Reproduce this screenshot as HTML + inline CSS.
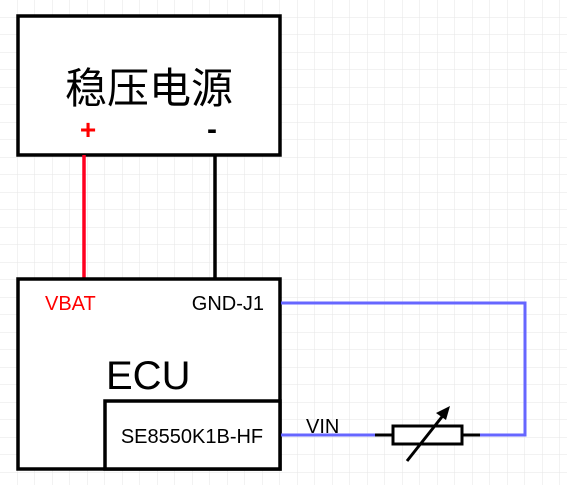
<!DOCTYPE html>
<html><head><meta charset="utf-8"><style>
html,body{margin:0;padding:0;width:567px;height:485px;overflow:hidden;background:#fff}
</style></head><body>
<svg width="567" height="485" xmlns="http://www.w3.org/2000/svg" font-family="Liberation Sans, Noto Sans CJK SC, sans-serif">
<defs>
<pattern id="g" width="17.5" height="17.5" patternUnits="userSpaceOnUse">
<path d="M17.5 0V17.5M0 17.5H17.5" stroke="#e6e6e6" stroke-width="1" fill="none"/>
</pattern>
</defs>
<rect width="567" height="485" fill="url(#g)"/>
<rect x="18" y="16" width="262" height="139" fill="#fff" stroke="#000" stroke-width="3.5"/>
<text x="149" y="103" font-size="42" text-anchor="middle">稳压电源</text>
<text x="88" y="139" font-size="28" font-weight="bold" fill="#ff0000" text-anchor="middle">+</text>
<text x="212" y="139" font-size="30" font-weight="bold" text-anchor="middle">-</text>
<line x1="84" y1="155" x2="84" y2="279" stroke="#ff0020" stroke-width="3.5"/>
<line x1="215" y1="155" x2="215" y2="279" stroke="#000" stroke-width="3.5"/>
<rect x="18" y="279" width="262" height="190" fill="#fff" stroke="#000" stroke-width="3.5"/>
<text x="45" y="310" font-size="20" fill="#ff0000">VBAT</text>
<text x="264" y="310" font-size="20" text-anchor="end">GND-J1</text>
<text x="106" y="389" font-size="40">ECU</text>
<rect x="105" y="401" width="175" height="68" fill="#fff" stroke="#000" stroke-width="3.5"/>
<text x="192" y="443" font-size="20" text-anchor="middle">SE8550K1B-HF</text>
<polyline points="281,303 525,303 525,435 480,435" fill="none" stroke="#6666ff" stroke-width="3"/>
<line x1="281" y1="435" x2="375" y2="435" stroke="#6666ff" stroke-width="3"/>
<text x="306" y="433" font-size="20">VIN</text>
<line x1="375" y1="435" x2="393" y2="435" stroke="#000" stroke-width="3"/>
<line x1="462" y1="435" x2="480" y2="435" stroke="#000" stroke-width="3"/>
<rect x="393" y="426" width="69" height="18" fill="#fff" stroke="#000" stroke-width="3"/>
<line x1="407" y1="461" x2="445" y2="413" stroke="#000" stroke-width="3"/>
<polygon points="450,406 436,413 446,420" fill="#000"/>
</svg>
</body></html>
